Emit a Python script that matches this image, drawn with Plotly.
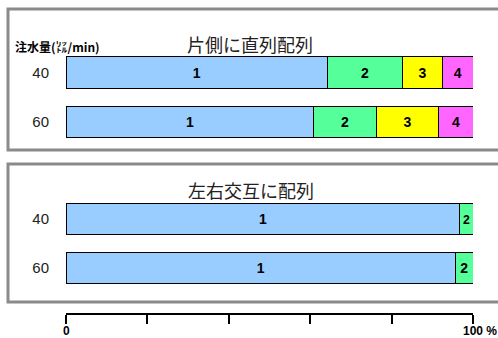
import plotly.graph_objects as go

W, H = 498, 338

categories = ["40", "60"]
# Panel 1: 片側に直列配列 (percent shares)
p1_s1 = [64.2, 60.9]
p1_s2 = [18.5, 15.3]
p1_s3 = [9.8, 15.4]
p1_s4 = [7.5, 8.4]
# Panel 2: 左右交互に配列
p2_s1 = [96.8, 95.7]
p2_s2 = [3.2, 4.3]

seg_names = ["1", "2", "3", "4"]
colors = ["#99CCFF", "#55FF99", "#FFFF00", "#FF66FF"]

xtick_vals = [0, 20, 40, 60, 80, 100]
xlabel_vals = [0, 100]
xlabel_text = ["0", "100 %"]

title1 = "片側に直列配列"
title2 = "左右交互に配列"
ylabel = "注水量(㍑/min)"

def px(x):
    return x / W

def py(y):
    return 1 - y / H

fig = go.Figure()

bar_font = dict(family="Liberation Sans, Arial", size=14, color="black")

for vals, name, col in zip([p1_s1, p1_s2, p1_s3, p1_s4], seg_names, colors):
    fig.add_trace(go.Bar(
        y=categories, x=vals, orientation="h", name=name,
        marker=dict(color=col, line=dict(color="black", width=1)),
        text=[f"<b>{name}</b>"] * len(vals), textposition="inside",
        insidetextanchor="middle", textangle=0, textfont=bar_font,
        xaxis="x", yaxis="y", showlegend=False, hoverinfo="skip",
    ))

for vals, name, col in zip([p2_s1, p2_s2], seg_names, colors):
    fig.add_trace(go.Bar(
        y=categories, x=vals, orientation="h", name=name,
        marker=dict(color=col, line=dict(color="black", width=1)),
        text=[f"<b>{name}</b>"] * len(vals), textposition="inside",
        insidetextanchor="middle", textangle=0, textfont=bar_font,
        xaxis="x2", yaxis="y2", showlegend=False, hoverinfo="skip",
    ))

xdom = [px(66), px(473)]
ytick_font = dict(family="Liberation Sans, Arial", size=15, color="#222")

fig.update_layout(
    width=W, height=H,
    margin=dict(l=0, r=0, t=0, b=0, autoexpand=False),
    paper_bgcolor="white", plot_bgcolor="rgba(0,0,0,0)",
    barmode="stack", bargap=0.37,
    xaxis=dict(domain=xdom, range=[0, 100], visible=False, anchor="y", automargin=False),
    yaxis=dict(domain=[py(146.75), py(47.75)], categoryorder="array",
               categoryarray=categories, autorange="reversed", automargin=False,
               showgrid=False, zeroline=False, showline=False,
               ticks="", tickfont=ytick_font, ticklabelstandoff=16, anchor="x"),
    xaxis2=dict(domain=xdom, range=[0, 100], anchor="free", position=py(314),
                automargin=False,
                showline=True, linecolor="black", linewidth=2,
                ticks="outside", ticklen=9, tickwidth=2, tickcolor="black",
                tickvals=xtick_vals, showticklabels=False,
                showgrid=False, zeroline=False),
    yaxis2=dict(domain=[py(292.4), py(194.8)], categoryorder="array",
                categoryarray=categories, autorange="reversed", automargin=False,
                showgrid=False, zeroline=False, showline=False,
                ticks="", tickfont=ytick_font, ticklabelstandoff=16, anchor="x2"),
)

border = dict(color="#8a8a8a", width=3)
shapes = []
for top, bottom in [(9, 150), (164, 302)]:
    shapes.append(dict(type="path", xref="paper", yref="paper",
                       path=f"M 1.05 {py(top)} L {px(8)} {py(top)} L {px(8)} {py(bottom)} L 1.05 {py(bottom)}",
                       line=border))
fig.update_layout(shapes=shapes)

tick_font = dict(family="Liberation Sans, Arial", size=12, color="black")
for v, t in zip(xlabel_vals, xlabel_text):
    fig.add_annotation(x=v, y=py(331), xref="x2", yref="paper", text=f"<b>{t}</b>",
                       showarrow=False, font=tick_font,
                       xanchor="center" if v == 0 else "left", xshift=0 if v == 0 else -12,
                       yanchor="middle")

cjk = "Noto Sans CJK JP"
fig.add_annotation(x=px(250), y=py(44), xref="paper", yref="paper", text=title1,
                   showarrow=False, font=dict(family=cjk, size=18, color="#222"),
                   xanchor="center", yanchor="middle")
fig.add_annotation(x=px(251), y=py(190), xref="paper", yref="paper", text=title2,
                   showarrow=False, font=dict(family=cjk, size=18, color="#222"),
                   xanchor="center", yanchor="middle")
fig.add_annotation(x=px(13), y=py(46), xref="paper", yref="paper", text=f"<b>{ylabel}</b>",
                   showarrow=False, font=dict(family=cjk, size=12, color="black"),
                   xanchor="left", yanchor="middle")

fig.write_html("out.html")
